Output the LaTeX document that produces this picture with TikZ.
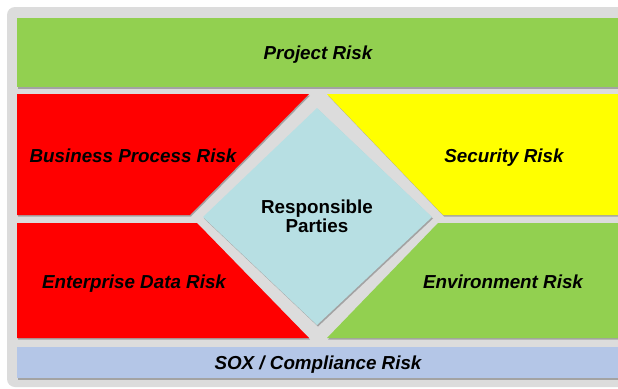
\documentclass[tikz,border=0pt]{standalone}
\usepackage{fontspec}
\setmainfont{Liberation Sans}
\definecolor{bggray}{HTML}{DCDCDC}
\definecolor{rgreen}{HTML}{92D050}
\definecolor{rred}{HTML}{FF0000}
\definecolor{ryellow}{HTML}{FFFF00}
\definecolor{rdiam}{HTML}{B7DFE3}
\definecolor{rsox}{HTML}{B4C6E7}
\definecolor{shade}{HTML}{8C8C8C}
\tikzset{
  risklabel/.style={font=\fontsize{18.8}{21}\selectfont\bfseries\itshape, text=black, inner sep=0pt, anchor=base},
  partylabel/.style={font=\fontsize{18.8}{19}\selectfont\bfseries, text=black, align=center, inner sep=0pt, anchor=base},
  shadowfill/.style={fill=shade, opacity=0.7},
}
\begin{document}
\begin{tikzpicture}[x=1pt,y=-1pt]
\useasboundingbox (0,0) rectangle (618,388);
\clip (0,0) rectangle (618,388);
\fill[white] (0,0) rectangle (618,388);
% background panel
\fill[bggray, rounded corners=8pt] (7,7) rectangle (660,387);
% shadows
\begin{scope}[shift={(1,1.5)}]
\fill[shadowfill] (17,18) rectangle (660,87);
\fill[shadowfill] (17,94) -- (309,94) -- (190,215) -- (17,215) -- cycle;
\fill[shadowfill] (17,223) -- (197,223) -- (309,338) -- (17,338) -- cycle;
\fill[shadowfill] (327,94) -- (660,94) -- (660,215) -- (443,215) -- cycle;
\fill[shadowfill] (438,223) -- (660,223) -- (660,338) -- (327,338) -- cycle;
\fill[shadowfill] (317,108) -- (432,217) -- (317,325) -- (203,217) -- cycle;
\fill[shadowfill] (17,347) rectangle (660,378);
\end{scope}
% shapes
\fill[rgreen] (17,18) rectangle (660,87);
\fill[rred] (17,94) -- (309,94) -- (190,215) -- (17,215) -- cycle;
\fill[rred] (17,223) -- (197,223) -- (309,338) -- (17,338) -- cycle;
\fill[ryellow] (327,94) -- (660,94) -- (660,215) -- (443,215) -- cycle;
\fill[rgreen] (438,223) -- (660,223) -- (660,338) -- (327,338) -- cycle;
\fill[rdiam] (317,108) -- (432,217) -- (317,325) -- (203,217) -- cycle;
\fill[rsox] (17,347) rectangle (660,378);
% labels
\node[risklabel] (project) at (318,59) {Project Risk};
\node[risklabel] (business) at (133,162) {Business Process Risk};
\node[risklabel] (security) at (504,162) {Security Risk};
\node[partylabel] (parties1) at (317,213) {Responsible};
\node[partylabel] (parties2) at (317,232) {Parties};
\node[risklabel] (enterprise) at (134,288) {Enterprise Data Risk};
\node[risklabel] (environment) at (503,288) {Environment Risk};
\node[risklabel] (sox) at (318,369) {SOX / Compliance Risk};
\end{tikzpicture}
\end{document}
